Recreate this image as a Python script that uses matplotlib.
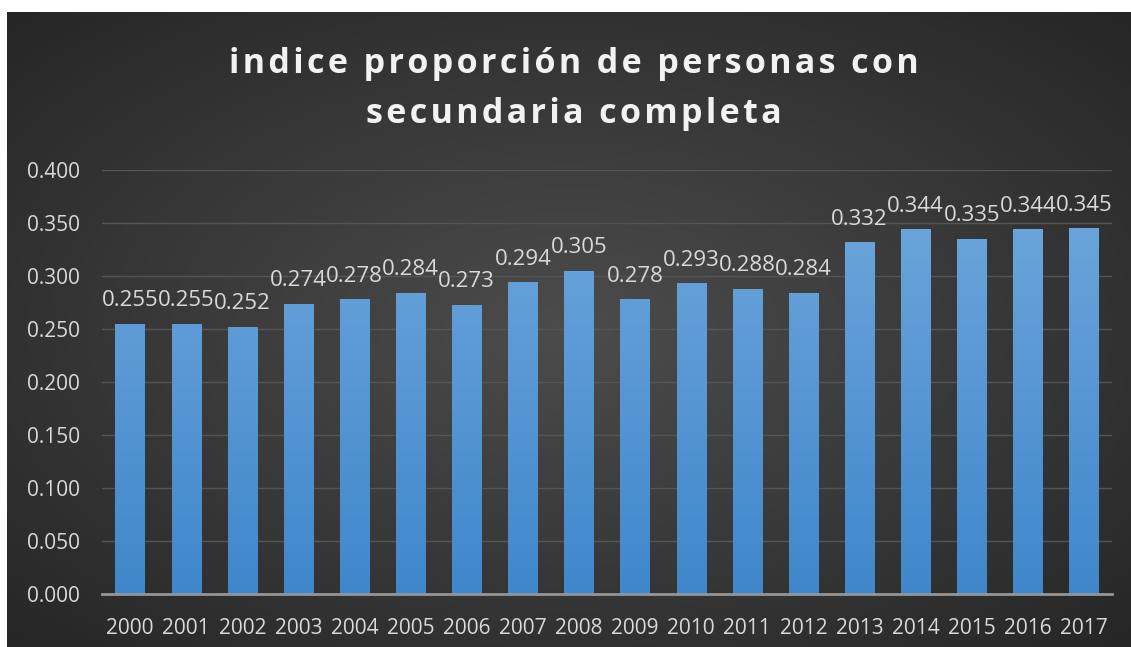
import numpy as np
import matplotlib.pyplot as plt
from matplotlib.colors import LinearSegmentedColormap

years = ["2000", "2001", "2002", "2003", "2004", "2005", "2006", "2007", "2008",
         "2009", "2010", "2011", "2012", "2013", "2014", "2015", "2016", "2017"]
values = [0.255, 0.255, 0.252, 0.274, 0.278, 0.284, 0.273, 0.294, 0.305,
          0.278, 0.293, 0.288, 0.284, 0.332, 0.344, 0.335, 0.344, 0.345]
title_lines = ["indice proporción de personas con", "secundaria completa"]

plt.rcParams['font.family'] = ['Open Sans', 'DejaVu Sans']
txt = "#d9d9d9"

fig = plt.figure(figsize=(11.31, 6.47), dpi=100)
fig.patch.set_facecolor("white")

# dark radial background
bg = fig.add_axes([7 / 1131, 0, 1 - 7 / 1131, 1 - 12 / 647])
bg.set_axis_off()
yy, xx = np.mgrid[-1:1:300j, -1:1:500j]
r = np.sqrt(xx ** 2 + yy ** 2) / np.sqrt(2)
bgcmap = LinearSegmentedColormap.from_list("bg", ["#4c4c4c", "#262626"])
bg.imshow(r, cmap=bgcmap, aspect="auto", extent=[0, 1, 0, 1], vmin=0, vmax=1)
bg.set_xlim(0, 1)
bg.set_ylim(0, 1)

ax = fig.add_axes([102 / 1131, 53 / 647, 1010 / 1131, 424 / 647])
ax.patch.set_alpha(0)
x = np.arange(len(years))
bars = ax.bar(x, values, width=0.52, color="#5b9bd5", zorder=2)

barcmap = LinearSegmentedColormap.from_list("bar", ["#3f87cb", "#71a8dd"])
grad = np.linspace(0, 1, 256).reshape(-1, 1)
for b in bars:
    x0, w = b.get_x(), b.get_width()
    im = ax.imshow(grad, cmap=barcmap, aspect="auto", origin="lower",
                   extent=[x0, x0 + w, 0, 0.4], zorder=3)
    im.set_clip_path(b)

for xi, v in zip(x, values):
    ax.annotate(f"{v:.3f}", (xi, v), xytext=(0, 9), textcoords="offset points",
                ha="center", va="bottom", color=txt, fontsize=16, zorder=5)

ax.set_xlim(-0.5, len(years) - 0.5)
ax.set_ylim(0, 0.4)
ticks = np.arange(0, 0.401, 0.05)
ax.set_yticks(ticks)
ax.set_yticklabels([f"{t:.3f}" for t in ticks])
ax.set_xticks(x)
ax.set_xticklabels(years)
ax.tick_params(colors=txt, labelsize=15, length=0)
ax.tick_params(axis="y", pad=16)
ax.tick_params(axis="x", pad=17)
ax.grid(axis="y", color="#555555", linewidth=1, zorder=0)
for s in ["top", "right", "left"]:
    ax.spines[s].set_visible(False)
ax.spines["bottom"].set_color("#959595")
ax.spines["bottom"].set_linewidth(2)
ax.spines["bottom"].set_zorder(4)

# spaced bold title
hair = "\u200a"
for line, yc in zip(title_lines, [64, 114]):
    fig.text(574 / 1131, 1 - yc / 647, hair.join(line), ha="center", va="center",
             color="#f2f2f2", fontsize=24.5, fontweight="bold")

fig.savefig("out.png", dpi=100)
